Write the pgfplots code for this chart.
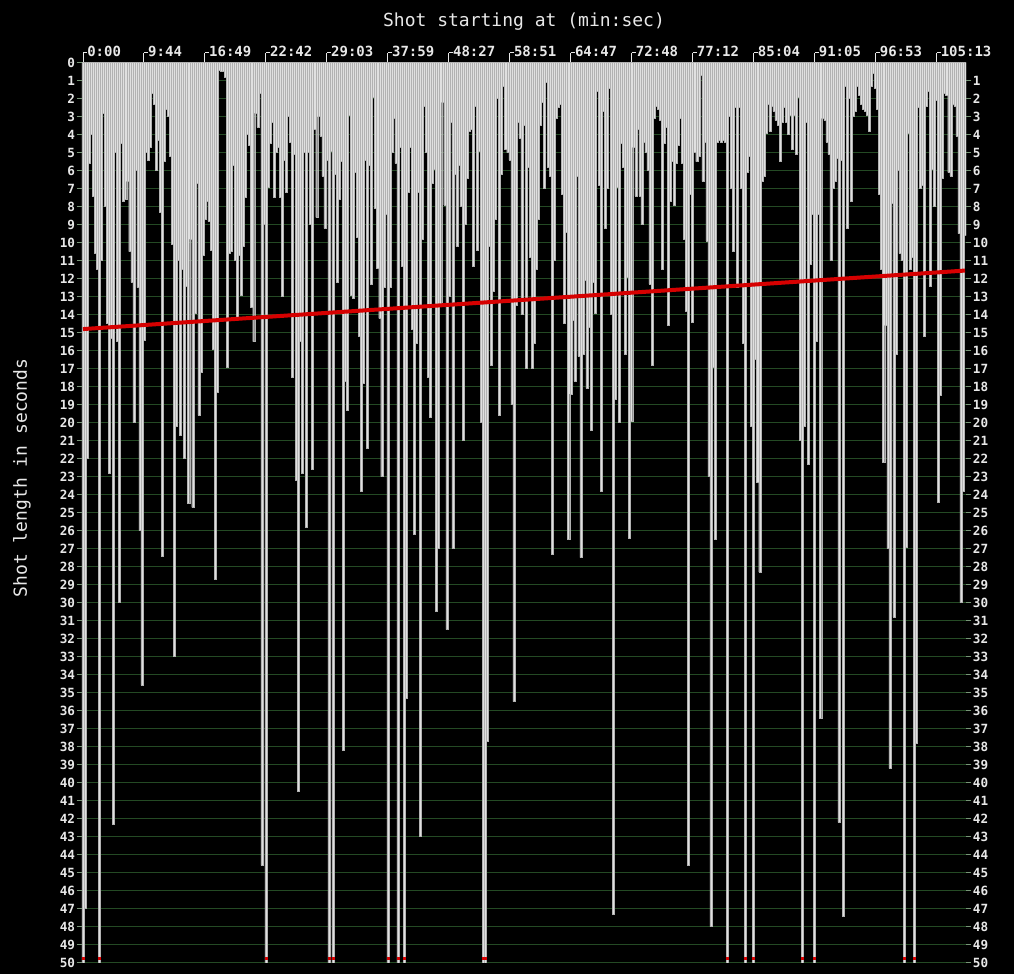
\documentclass[border=0pt]{standalone}
\usepackage{fontspec}
\setmonofont{DejaVu Sans Mono}
\usepackage{pgfplots}
\usepackage{pgfplotstable}
\pgfplotsset{compat=1.18}
\definecolor{bargray}{RGB}{224,224,224}
\definecolor{barline}{RGB}{178,178,178}
\definecolor{gridgreen}{RGB}{36,74,36}
\definecolor{tickc}{RGB}{120,150,120}
\definecolor{trendred}{RGB}{214,0,0}
\definecolor{txt}{RGB}{232,232,232}

\pgfplotstableread{
i v
0 51
1 47
2 22
3 5.6
4 4.0
5 7.4
6 10.6
7 11.5
8 51
9 11.0
10 2.8
11 8.0
12 14.5
13 22.8
14 15.3
15 42.3
16 5.0
17 15.5
18 30.0
19 4.5
20 7.7
21 7.6
22 6.6
23 10.5
24 12.2
25 20.0
26 6.0
27 12.5
28 26.0
29 34.6
30 15.4
31 5.0
32 5.4
33 4.7
34 1.7
35 2.3
36 6.0
37 4.3
38 8.3
39 27.4
40 5.5
41 2.6
42 3.0
43 5.2
44 10.1
45 33.0
46 20.2
47 11.0
48 20.7
49 11.5
50 22.0
51 12.4
52 24.5
53 9.8
54 24.7
55 13.9
56 6.7
57 19.6
58 17.2
59 10.7
60 8.7
61 7.7
62 8.8
63 10.4
64 15.9
65 28.7
66 18.3
67 0.4
68 0.5
69 0.5
70 0.8
71 16.9
72 10.6
73 10.5
74 5.7
75 11.0
76 14.2
77 10.7
78 12.9
79 10.2
80 7.5
81 4.0
82 4.6
83 13.6
84 15.5
85 2.8
86 3.6
87 1.7
88 44.6
89 9.0
90 51
91 6.9
92 4.5
93 3.3
94 7.5
95 5.0
96 4.7
97 7.5
98 13.0
99 5.4
100 7.2
101 3.0
102 4.4
103 17.5
104 5.1
105 23.2
106 40.5
107 15.5
108 22.8
109 5.0
110 25.8
111 5.0
112 9.0
113 22.6
114 3.7
115 8.6
116 3.0
117 4.1
118 6.3
119 9.2
120 5.4
121 51
122 4.9
123 51
124 6.2
125 12.2
126 7.6
127 5.5
128 38.2
129 17.7
130 19.3
131 2.9
132 12.9
133 13.1
134 6.1
135 9.7
136 15.2
137 23.8
138 17.8
139 5.4
140 21.4
141 5.7
142 12.3
143 1.9
144 8.1
145 11.4
146 14.2
147 23.0
148 12.5
149 8.4
150 51
151 12.5
152 5.0
153 3.1
154 5.6
155 51
156 4.7
157 11.3
158 51
159 35.3
160 7.2
161 4.7
162 14.8
163 26.2
164 15.6
165 7.2
166 43.0
167 9.8
168 2.4
169 5.0
170 17.5
171 19.7
172 6.7
173 5.9
174 30.5
175 27.0
176 13.5
177 2.2
178 7.9
179 31.5
180 13.0
181 3.3
182 27.0
183 6.2
184 10.2
185 5.7
186 8.0
187 21.0
188 9.0
189 6.4
190 3.8
191 3.7
192 11.3
193 2.4
194 10.4
195 4.9
196 20.0
197 51
198 51
199 37.7
200 10.2
201 16.8
202 12.7
203 8.7
204 2.0
205 19.6
206 6.2
207 1.3
208 4.8
209 5.0
210 5.4
211 19.0
212 35.5
213 13.5
214 3.3
215 4.2
216 14.0
217 3.5
218 17.0
219 5.8
220 10.8
221 17.0
222 15.6
223 11.5
224 8.7
225 3.5
226 2.2
227 7.0
228 1.1
229 5.8
230 6.3
231 27.3
232 11.0
233 3.1
234 2.5
235 2.3
236 7.3
237 14.5
238 9.4
239 26.5
240 18.4
241 14.3
242 17.7
243 6.3
244 16.3
245 27.5
246 16.2
247 12.1
248 18.1
249 14.7
250 20.4
251 12.2
252 13.9
253 1.6
254 6.8
255 23.8
256 2.7
257 9.2
258 7.0
259 1.4
260 14.0
261 47.3
262 18.7
263 6.9
264 20.0
265 4.5
266 5.8
267 16.2
268 11.9
269 26.4
270 19.9
271 4.7
272 7.4
273 3.7
274 7.4
275 9.0
276 4.4
277 5.0
278 6.0
279 12.3
280 16.8
281 3.1
282 2.4
283 2.6
284 3.2
285 11.5
286 4.5
287 3.6
288 14.6
289 7.7
290 5.5
291 7.9
292 5.6
293 4.6
294 3.1
295 5.6
296 9.8
297 13.8
298 44.6
299 7.3
300 14.4
301 5.0
302 5.5
303 5.2
304 0.7
305 6.6
306 4.4
307 9.9
308 23.0
309 48.0
310 16.9
311 26.5
312 4.4
313 4.3
314 4.4
315 4.3
316 4.4
317 51
318 3.0
319 7.0
320 10.5
321 2.5
322 12.5
323 2.5
324 7.0
325 15.6
326 51
327 6.1
328 5.2
329 20.2
330 51
331 16.5
332 23.3
333 28.3
334 6.6
335 6.3
336 3.9
337 2.3
338 3.8
339 2.4
340 2.7
341 3.2
342 3.5
343 5.5
344 3.3
345 2.5
346 3.3
347 4.0
348 2.9
349 4.8
350 2.9
351 5.1
352 1.9
353 21.0
354 51
355 20.2
356 3.3
357 22.3
358 11.2
359 8.4
360 51
361 15.5
362 8.4
363 36.4
364 3.1
365 3.2
366 4.4
367 5.1
368 11.0
369 7.0
370 6.6
371 5.3
372 42.2
373 5.4
374 47.4
375 1.3
376 9.2
377 2.0
378 7.7
379 3.0
380 2.7
381 1.3
382 1.8
383 2.3
384 2.6
385 2.7
386 2.9
387 3.8
388 1.3
389 0.6
390 1.4
391 2.6
392 7.3
393 11.5
394 22.2
395 14.6
396 27.0
397 39.2
398 7.8
399 30.8
400 16.2
401 6.0
402 10.6
403 11.0
404 51
405 26.9
406 3.9
407 11.5
408 10.8
409 51
410 37.8
411 2.5
412 7.0
413 6.8
414 15.2
415 2.4
416 1.6
417 12.4
418 5.9
419 8.0
420 2.1
421 24.4
422 18.5
423 6.4
424 1.7
425 1.8
426 6.1
427 6.3
428 2.3
429 2.4
430 4.1
431 9.5
432 30.0
433 23.8
434 9.6
}\shots

\pgfplotsset{
  base/.style={
    at={(0pt,0pt)}, anchor=south west, scale only axis,
    width=663pt, height=675pt,
    xmin=-0.5, xmax=434.5, ymin=0, ymax=50, y dir=reverse,
    axis line style={draw=none},
    /pgf/number format/assume math mode=true,
  }
}

\begin{document}
\begin{tikzpicture}
\path[use as bounding box, fill=black] (-61.5pt,-8.5pt) rectangle (699pt,722pt);

\begin{axis}[base,
  xtick={0,30,...,420},
  xticklabels={0:00,9:44,16:49,22:42,29:03,37:59,48:27,58:51,64:47,72:48,77:12,85:04,91:05,96:53,105:13},
  xtick pos=right, xticklabel pos=right,
  tick align=outside, major tick length=7pt,
  xtick style={txt, line width=0.75pt},
  xticklabel style={font=\ttfamily\bfseries\fontsize{10.5}{12}\selectfont, text=txt, anchor=base west, inner sep=0pt, xshift=3pt, yshift=-2.6pt,
    execute at begin node={\llap{\textcolor{txt}{\rule[3.1pt]{3.2pt}{0.75pt}}}}},
  ytick={0,...,50}, yticklabels={}, ytick style={draw=none},
  ymajorgrids, grid style={gridgreen, line width=0.75pt},
]
\addplot[ybar, bar width=1, fill=bargray, draw=barline, line width=0.3pt] table[x=i, y=v] {\shots};
\addplot[only marks, mark=square*, mark size=0.8pt, trendred] coordinates {
(0,49.75) (8,49.75) (90,49.75) (121,49.75) (123,49.75) (150,49.75) (155,49.75) (158,49.75)
(197,49.75) (198,49.75) (317,49.75) (326,49.75) (330,49.75) (354,49.75) (360,49.75) (404,49.75) (409,49.75)};
\addplot[trendred, line width=3pt] coordinates {(0,14.8) (434,11.55)};
\end{axis}

\begin{axis}[base,
  xtick=\empty,
  ytick={0,...,50}, ytick pos=left, yticklabel pos=left,
  tick align=outside, major tick length=4pt,
  ytick style={tickc, line width=0.75pt},
  yticklabel style={font=\ttfamily\bfseries\fontsize{9.5}{11}\selectfont, text=txt, inner sep=1pt},
]
\end{axis}

\begin{axis}[base,
  xtick=\empty,
  ytick={1,...,50}, ytick pos=right, yticklabel pos=right,
  tick align=outside, major tick length=4pt,
  ytick style={tickc, line width=0.75pt},
  yticklabel style={font=\ttfamily\bfseries\fontsize{9.5}{11}\selectfont, text=txt, inner sep=1pt},
]
\end{axis}

\node[font=\ttfamily\fontsize{13.5}{15}\selectfont, text=txt] at (331.5pt,706pt) {Shot starting at (min:sec)};
\node[font=\ttfamily\fontsize{13.5}{15}\selectfont, text=txt, rotate=90] at (-45pt,363.5pt) {Shot length in seconds};
\end{tikzpicture}
\end{document}
